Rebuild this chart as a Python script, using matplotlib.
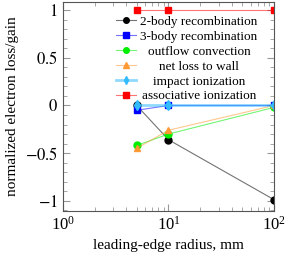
import numpy as np
import matplotlib
matplotlib.use('Agg')
import matplotlib.pyplot as plt
from matplotlib.colors import to_rgba
from matplotlib.ticker import MultipleLocator

radius = [5, 10, 100]
two_body = [0.0, -0.36, -0.99]
three_body = [-0.05, 0.0, 0.0]
outflow = [-0.42, -0.30, -0.02]
wall = [-0.45, -0.26, 0.0]
impact = [0.0, 0.0, 0.0]
assoc = [1.0, 1.0, 1.0]

labels = ['2-body recombination', '3-body recombination', 'outflow convection',
          'net loss to wall', 'impact ionization', 'associative ionization']

plt.rcParams['font.family'] = 'Liberation Serif'
plt.rcParams['mathtext.fontset'] = 'stix'

fig = plt.figure(figsize=(2.9, 2.59), dpi=100)
ax = fig.add_axes([0.217, 0.185, 0.728, 0.808])

# linee semi-trasparenti, marker pieni
series = [two_body, three_body, outflow, wall, impact, assoc]
colors = ['black', '#0000ff', '#00ee00', '#ff9933', '#33bbff', '#ff0000']
markers = ['o', 's', 'o', '^', 'd', 's']
widths = [0.8, 0.8, 0.8, 0.8, 2.0, 0.8]
for y, c, m, w, lab in zip(series, colors, markers, widths, labels):
    ax.plot(radius, y, marker=m, color=to_rgba(c, 0.55), mfc=c, mec=c, lw=w, ms=5, label=lab)

ax.set_xscale('log')
ax.set_xlim(1, 100)
ax.set_ylim(-1.11, 1.09)
ax.yaxis.set_minor_locator(MultipleLocator(0.1))
ax.set_yticks([-1, -0.5, 0, 0.5, 1])
ax.set_yticklabels(['$-1$', '$-0.5$', '$0$', '$0.5$', '$1$'])
ax.tick_params(which='both', direction='in', top=True, right=True, labelsize=12,
               colors='#999999', labelcolor='black')
ax.tick_params(which='major', length=5)
ax.tick_params(which='minor', length=3)
for s in ax.spines.values():
    s.set_color('#555555')

ax.set_xlabel('leading-edge radius, mm', fontsize=11)
ax.set_ylabel('normalized electron loss/gain', fontsize=11)

leg = ax.legend(loc='upper right', bbox_to_anchor=(0.948, 0.958), frameon=False, fontsize=9.5,
                handlelength=1.55, labelspacing=0.2, borderaxespad=0, handletextpad=0.3,
                markerscale=0.8)

# centra le etichette della legenda
fig.canvas.draw()
r = fig.canvas.get_renderer()
wmax = max(t.get_window_extent(r).width for t in leg.get_texts())
for t in leg.get_texts():
    t.set_position(((wmax - t.get_window_extent(r).width) / 2, 0))

fig.savefig('out.png', dpi=100)
